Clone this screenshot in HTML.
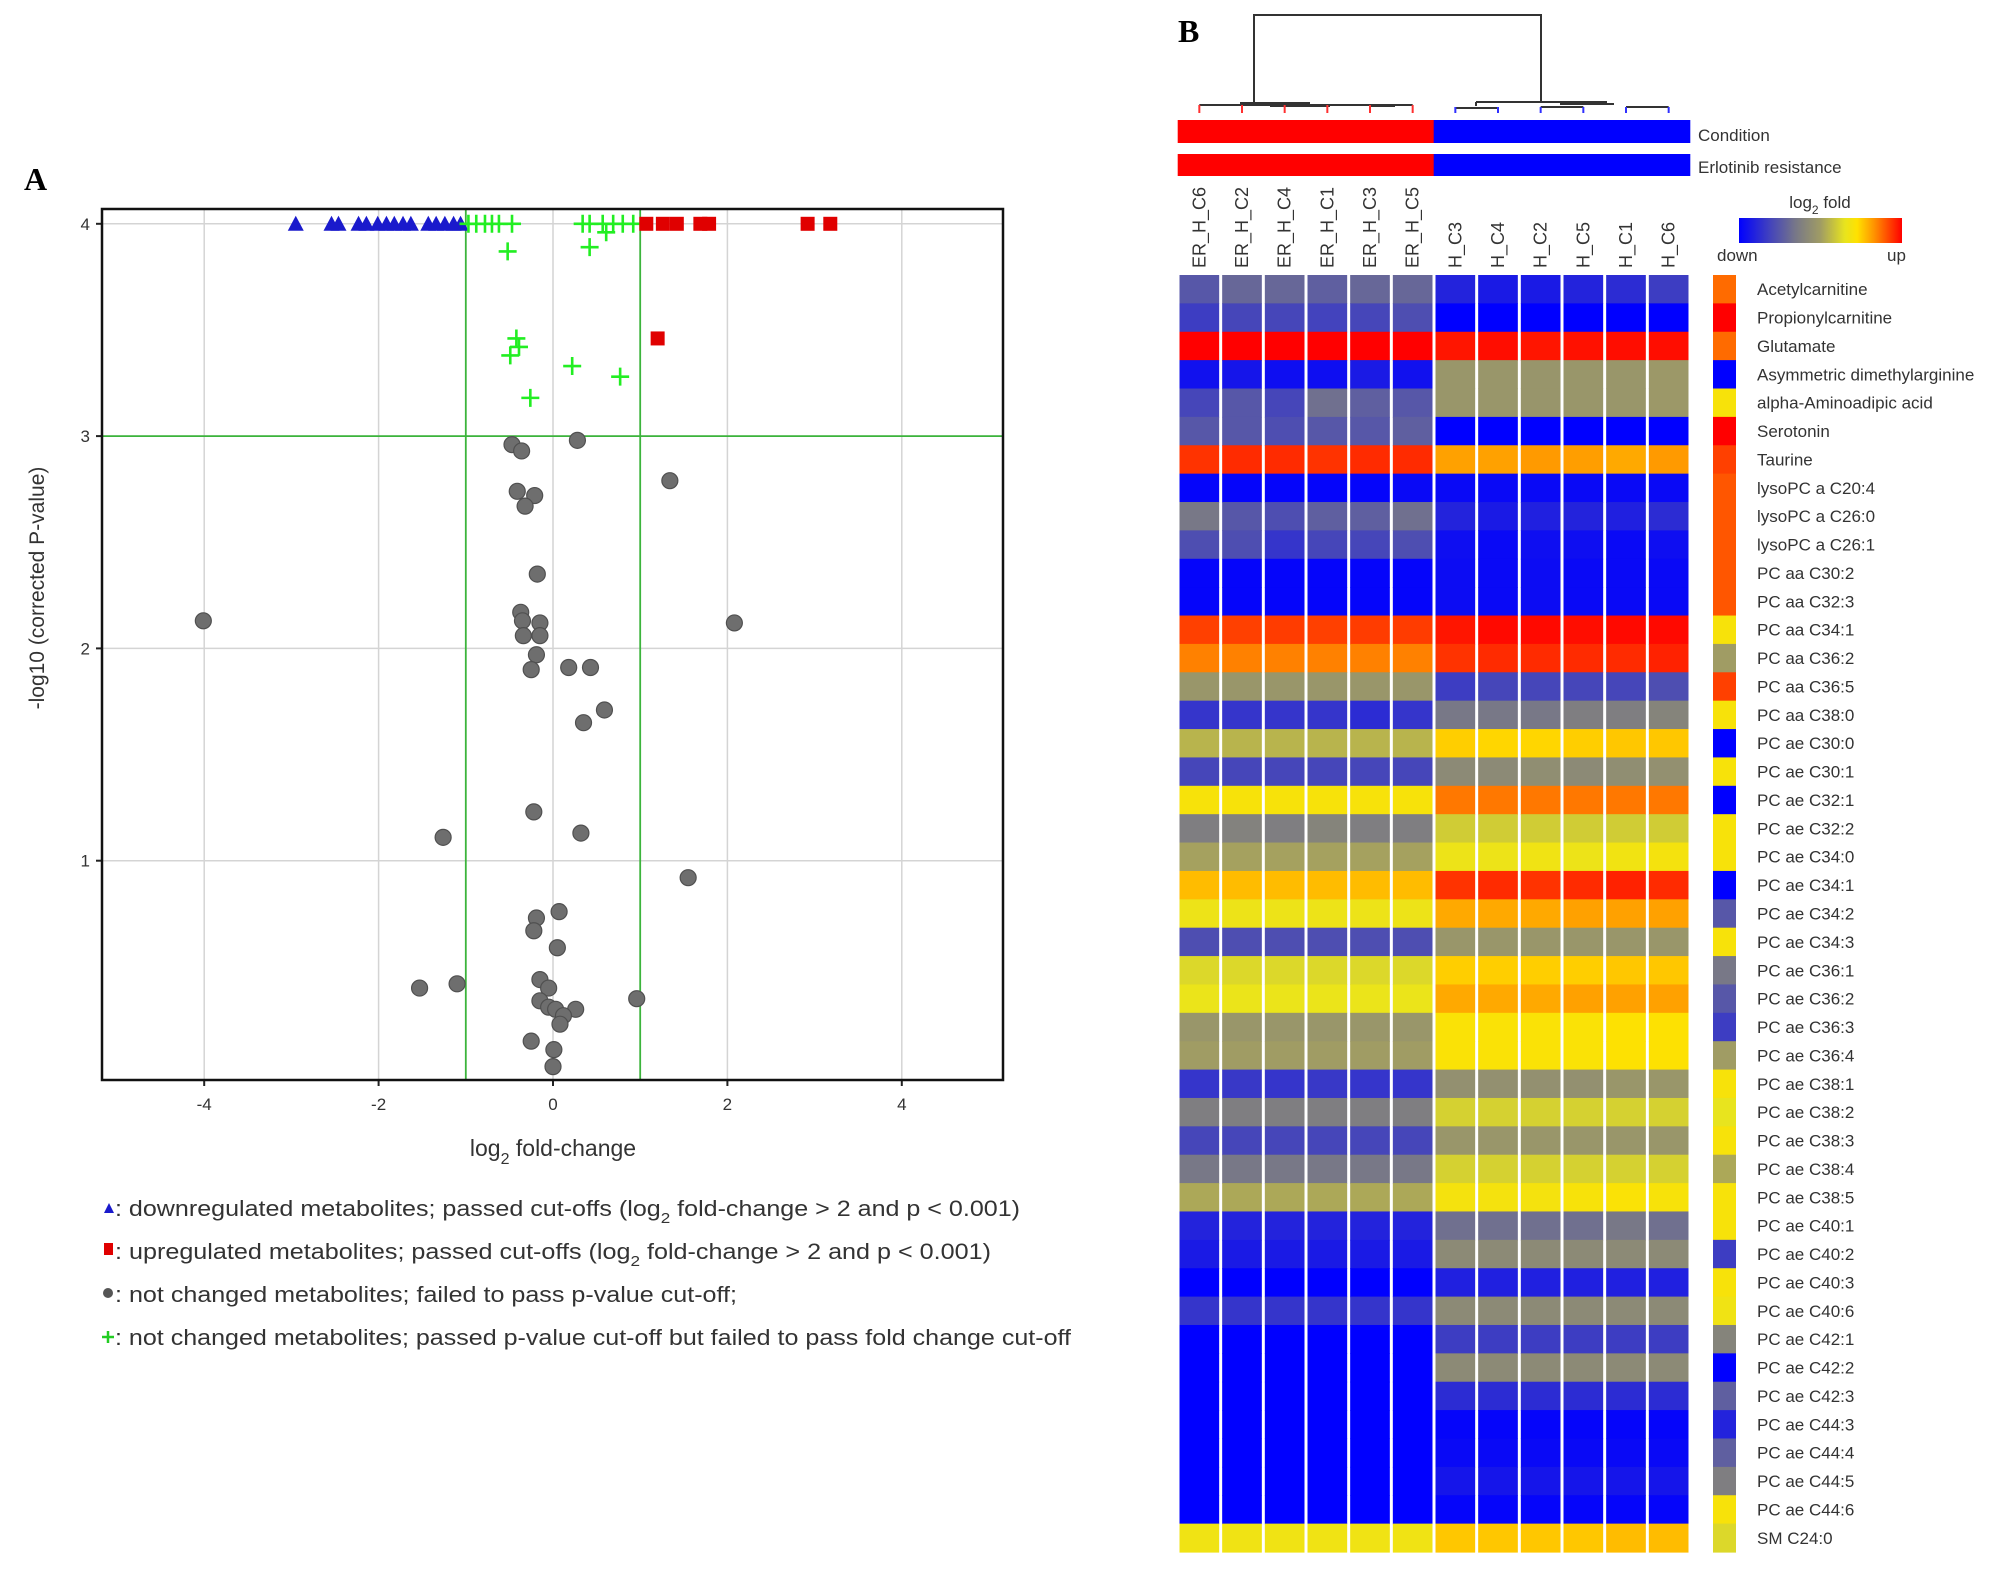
<!DOCTYPE html>
<html><head><meta charset="utf-8"><style>
html,body{margin:0;padding:0;background:#fff;}
svg{display:block;font-family:"Liberation Sans",sans-serif;}
</style></head><body>
<svg id="fig" width="2008" height="1591" viewBox="0 0 2008 1591" xmlns="http://www.w3.org/2000/svg">
<g id="panelA"></g>
<g id="panelB"></g>
</svg>
<script>
// ===== Volcano data =====
const blueX=[-2.95,-2.54,-2.46,-2.23,-2.14,-2.01,-1.91,-1.82,-1.72,-1.63,-1.43,-1.34,-1.24,-1.14,-1.06];
const blueY=[4,4,4,4,4,4,4,4,4,4,4,4,4,4,4];
const redX=[1.07,1.26,1.42,1.69,1.79,2.92,3.18,1.20];
const redY=[4,4,4,4,4,4,4,3.46];
const greenX=[-0.97,-0.88,-0.78,-0.70,-0.62,-0.47,0.34,0.42,0.57,0.69,0.80,0.92,0.61,-0.52,0.42,-0.42,-0.39,-0.49,0.22,0.77,-0.26];
const greenY=[4,4,4,4,4,4,4,4,4,4,4,4,3.96,3.87,3.89,3.46,3.42,3.38,3.33,3.28,3.18];
const grayX=[0.28,-0.47,-0.36,1.34,-0.41,-0.21,-0.32,-0.18,-4.01,2.08,-0.37,-0.35,-0.15,-0.34,-0.15,-0.19,-0.25,0.18,0.43,0.59,0.35,-0.22,-1.26,0.32,1.55,0.07,-0.19,-0.22,0.05,-1.53,-1.10,-0.15,-0.05,0.96,-0.15,-0.05,0.03,0.26,0.12,0.08,-0.25,0.01,0.0];
const grayY=[2.98,2.96,2.93,2.79,2.74,2.72,2.67,2.35,2.13,2.12,2.17,2.13,2.12,2.06,2.06,1.97,1.90,1.91,1.91,1.71,1.65,1.23,1.11,1.13,0.92,0.76,0.73,0.67,0.59,0.40,0.42,0.44,0.40,0.35,0.34,0.31,0.30,0.30,0.27,0.23,0.15,0.11,0.03];
const xTicks=[-4,-2,0,2,4];
const yTicks=[1,2,3,4];
const xCut=[-1,1];
const yCut=[3];

// ===== Heatmap data =====
const colLabels=["ER_H_C6","ER_H_C2","ER_H_C4","ER_H_C1","ER_H_C3","ER_H_C5","H_C3","H_C4","H_C2","H_C5","H_C1","H_C6"];
const rowLabels=["Acetylcarnitine","Propionylcarnitine","Glutamate","Asymmetric dimethylarginine","alpha-Aminoadipic acid","Serotonin","Taurine","lysoPC a C20:4","lysoPC a C26:0","lysoPC a C26:1","PC aa C30:2","PC aa C32:3","PC aa C34:1","PC aa C36:2","PC aa C36:5","PC aa C38:0","PC ae C30:0","PC ae C30:1","PC ae C32:1","PC ae C32:2","PC ae C34:0","PC ae C34:1","PC ae C34:2","PC ae C34:3","PC ae C36:1","PC ae C36:2","PC ae C36:3","PC ae C36:4","PC ae C38:1","PC ae C38:2","PC ae C38:3","PC ae C38:4","PC ae C38:5","PC ae C40:1","PC ae C40:2","PC ae C40:3","PC ae C40:6","PC ae C42:1","PC ae C42:2","PC ae C42:3","PC ae C44:3","PC ae C44:4","PC ae C44:5","PC ae C44:6","SM C24:0"];
const heatVals=[
[-0.5,-0.4,-0.4,-0.45,-0.4,-0.4,-0.8,-0.85,-0.85,-0.8,-0.75,-0.65],
[-0.65,-0.6,-0.6,-0.62,-0.6,-0.55,-1,-1,-1,-1,-1,-1],
[1,1,1,1,1,1,0.95,0.97,0.95,0.96,0.97,0.97],
[-0.9,-0.88,-0.92,-0.92,-0.85,-0.9,-0.05,-0.05,-0.06,-0.05,-0.05,-0.03],
[-0.6,-0.5,-0.6,-0.35,-0.45,-0.5,-0.05,-0.05,-0.06,-0.05,-0.05,-0.03],
[-0.5,-0.5,-0.55,-0.5,-0.5,-0.45,-1,-1,-1,-1,-1,-1],
[0.88,0.9,0.9,0.88,0.9,0.9,0.62,0.62,0.64,0.63,0.6,0.64],
[-0.97,-0.97,-0.97,-0.97,-0.97,-0.95,-0.95,-0.95,-0.95,-0.95,-0.95,-0.95],
[-0.3,-0.5,-0.55,-0.45,-0.45,-0.35,-0.8,-0.85,-0.82,-0.8,-0.82,-0.75],
[-0.55,-0.55,-0.7,-0.6,-0.6,-0.55,-0.92,-0.95,-0.92,-0.92,-0.95,-0.92],
[-0.97,-0.97,-0.97,-0.97,-0.97,-0.97,-0.93,-0.95,-0.93,-0.95,-0.95,-0.95],
[-0.97,-0.97,-0.97,-0.97,-0.97,-0.97,-0.93,-0.95,-0.93,-0.95,-0.95,-0.95],
[0.85,0.85,0.86,0.85,0.86,0.86,0.95,0.98,0.98,0.97,0.98,0.98],
[0.7,0.7,0.7,0.7,0.7,0.7,0.88,0.9,0.9,0.9,0.9,0.92],
[-0.05,-0.05,-0.05,-0.05,-0.05,-0.05,-0.65,-0.6,-0.6,-0.6,-0.6,-0.55],
[-0.7,-0.7,-0.7,-0.7,-0.75,-0.7,-0.3,-0.3,-0.3,-0.25,-0.25,-0.2],
[0.1,0.1,0.1,0.1,0.1,0.1,0.5,0.48,0.48,0.5,0.52,0.52],
[-0.6,-0.6,-0.6,-0.6,-0.6,-0.6,-0.15,-0.15,-0.12,-0.15,-0.12,-0.1],
[0.4,0.4,0.4,0.4,0.4,0.4,0.72,0.72,0.72,0.72,0.72,0.72],
[-0.25,-0.22,-0.25,-0.2,-0.25,-0.25,0.2,0.2,0.2,0.2,0.2,0.2],
[0.02,0.02,0.02,0.02,0.02,0.02,0.33,0.33,0.35,0.33,0.36,0.38],
[0.55,0.55,0.55,0.55,0.55,0.55,0.88,0.9,0.88,0.9,0.92,0.9],
[0.33,0.33,0.33,0.33,0.33,0.33,0.6,0.6,0.6,0.62,0.62,0.62],
[-0.55,-0.55,-0.55,-0.55,-0.55,-0.55,-0.05,-0.05,-0.05,-0.05,-0.05,-0.05],
[0.25,0.25,0.25,0.25,0.25,0.25,0.5,0.5,0.5,0.5,0.52,0.52],
[0.32,0.32,0.32,0.32,0.32,0.32,0.6,0.6,0.6,0.62,0.62,0.62],
[-0.05,-0.05,-0.05,-0.05,-0.05,-0.05,0.42,0.42,0.42,0.42,0.44,0.44],
[0.0,0.0,0.0,0.0,0.0,0.0,0.42,0.42,0.42,0.42,0.44,0.44],
[-0.7,-0.68,-0.7,-0.68,-0.7,-0.7,-0.1,-0.1,-0.1,-0.1,-0.05,-0.05],
[-0.25,-0.25,-0.25,-0.25,-0.25,-0.25,0.22,0.22,0.22,0.22,0.22,0.22],
[-0.6,-0.6,-0.6,-0.6,-0.6,-0.6,-0.05,-0.05,-0.05,-0.05,-0.05,-0.05],
[-0.3,-0.3,-0.3,-0.3,-0.3,-0.3,0.22,0.22,0.22,0.22,0.22,0.22],
[0.05,0.05,0.05,0.05,0.05,0.05,0.38,0.38,0.38,0.4,0.42,0.4],
[-0.8,-0.8,-0.8,-0.8,-0.8,-0.8,-0.35,-0.35,-0.35,-0.35,-0.3,-0.35],
[-0.85,-0.85,-0.85,-0.85,-0.85,-0.85,-0.15,-0.15,-0.15,-0.15,-0.15,-0.15],
[-1,-1,-1,-1,-1,-1,-0.82,-0.82,-0.82,-0.82,-0.82,-0.82],
[-0.7,-0.7,-0.7,-0.7,-0.7,-0.7,-0.15,-0.15,-0.15,-0.15,-0.15,-0.15],
[-1,-1,-1,-1,-1,-1,-0.65,-0.65,-0.65,-0.65,-0.65,-0.65],
[-1,-1,-1,-1,-1,-1,-0.15,-0.15,-0.15,-0.15,-0.15,-0.15],
[-1,-1,-1,-1,-1,-1,-0.75,-0.75,-0.75,-0.75,-0.75,-0.75],
[-1,-1,-1,-1,-1,-1,-0.97,-0.97,-0.97,-0.97,-0.97,-0.97],
[-1,-1,-1,-1,-1,-1,-0.95,-0.95,-0.95,-0.95,-0.95,-0.95],
[-1,-1,-1,-1,-1,-1,-0.88,-0.88,-0.88,-0.88,-0.88,-0.88],
[-1,-1,-1,-1,-1,-1,-0.97,-0.97,-0.97,-0.97,-0.97,-0.97],
[0.35,0.35,0.35,0.35,0.35,0.35,0.52,0.52,0.52,0.52,0.55,0.55]];
const sideVals=[0.75,1,0.75,-1,0.4,1,0.85,0.8,0.8,0.8,0.8,0.8,0.4,0,0.85,0.4,-1,0.4,-1,0.4,0.4,-1,-0.5,0.4,-0.3,-0.5,-0.65,0,0.4,0.3,0.4,0.05,0.4,0.4,-0.65,0.4,0.35,-0.2,-1,-0.45,-0.8,-0.45,-0.25,0.4,0.25];
const groupColors=["#ff0000","#ff0000","#ff0000","#ff0000","#ff0000","#ff0000","#0000ff","#0000ff","#0000ff","#0000ff","#0000ff","#0000ff"];

const NS="http://www.w3.org/2000/svg";
function mk(parent,tag,attrs,text){const e=document.createElementNS(NS,tag);for(const k in attrs)e.setAttribute(k,attrs[k]);if(text!==undefined)e.textContent=text;parent.appendChild(e);return e;}

// ===== Panel A =====
const A=document.getElementById('panelA');
const L=102,R=1003,T=209,B=1080;
const sx=v=>553+v*87.2;
const sy=v=>1073-v*212.3;
let t=mk(A,'text',{x:24,y:190,'font-family':'Liberation Serif, serif','font-weight':'bold','font-size':32});t.textContent='A';

xTicks.forEach(v=>{let g=mk(A,'line',{x1:sx(v),x2:sx(v),y1:T,y2:B,stroke:'#d4d4d4','stroke-width':1.5});

let tk=mk(A,'line',{x1:sx(v),x2:sx(v),y1:B,y2:B+6,stroke:'#222','stroke-width':2});

let tl=mk(A,'text',{x:sx(v),y:B+30,'text-anchor':'middle','font-size':17,fill:'#333'},(v<0?'-':'')+Math.abs(v));
});
yTicks.forEach(v=>{let g=mk(A,'line',{x1:L,x2:R,y1:sy(v),y2:sy(v),stroke:'#d4d4d4','stroke-width':1.5});

let tk=mk(A,'line',{x1:L-6,x2:L,y1:sy(v),y2:sy(v),stroke:'#222','stroke-width':2});

let tl=mk(A,'text',{x:L-12,y:sy(v)+6,'text-anchor':'end','font-size':17,fill:'#333'},String(v));
});
xCut.forEach(v=>{let c=mk(A,'line',{x1:sx(v),x2:sx(v),y1:T,y2:B,stroke:'#3cb43c','stroke-width':1.8});
});
yCut.forEach(v=>{let c=mk(A,'line',{x1:L,x2:R,y1:sy(v),y2:sy(v),stroke:'#3cb43c','stroke-width':1.8});
});
grayX.forEach((v,i)=>{let c=mk(A,'circle',{cx:sx(v),cy:sy(grayY[i]),r:8,fill:'#6e6e6e',stroke:'#505050','stroke-width':1.2});
});
blueX.forEach((v,i)=>{const x=sx(v),y=sy(blueY[i]);let p=mk(A,'polygon',{points:`${x-8},${y+7} ${x+8},${y+7} ${x},${y-8}`,fill:'#1a1acc'});
});
greenX.forEach((v,i)=>{const x=sx(v),y=sy(greenY[i]);let p=mk(A,'path',{d:`M${x-9},${y}H${x+9}M${x},${y-9}V${y+9}`,stroke:'#22ee22','stroke-width':2.6,fill:'none'});
});
redX.forEach((v,i)=>{const x=sx(v),y=sy(redY[i]);let p=mk(A,'rect',{x:x-7,y:y-7,width:14,height:14,fill:'#e00000'});
});
let fr=mk(A,'rect',{x:L,y:T,width:R-L,height:B-T,fill:'none',stroke:'#111','stroke-width':2.5});

let xt=mk(A,'text',{x:553,y:1156,'text-anchor':'middle','font-size':23,fill:'#333'});
xt.innerHTML='log<tspan dy="8" font-size="16">2</tspan><tspan dy="-8"> fold-change</tspan>';

let yt=mk(A,'text',{x:0,y:0,'text-anchor':'middle','font-size':21,fill:'#333',transform:'translate(44,588) rotate(-90)'},'-log10 (corrected P-value)');

// legend
const legY=[1216,1259,1302,1345];
let lg=mk(A,'g',{});
let m1=mk(lg,'polygon',{points:`104,${legY[0]-3} 114,${legY[0]-3} 109,${legY[0]-13}`,fill:'#1a1acc'});

let m2=mk(lg,'rect',{x:104,y:legY[1]-16,width:9,height:12,fill:'#e00000'});

let m3=mk(lg,'circle',{cx:108,cy:legY[2]-9,r:5,fill:'#555'});

let m4=mk(lg,'path',{d:`M102,${legY[3]-8}H114M108,${legY[3]-14}V${legY[3]-2}`,stroke:'#22cc22','stroke-width':2.5});

const legHTML=[': downregulated metabolites; passed cut-offs (log<tspan dy="7" font-size="15">2</tspan><tspan dy="-7">  fold-change &gt; 2 and p &lt; 0.001)</tspan>',
': upregulated metabolites; passed cut-offs (log<tspan dy="7" font-size="15">2</tspan><tspan dy="-7">  fold-change &gt; 2 and p &lt; 0.001)</tspan>',
': not changed metabolites; failed to pass p-value cut-off;',
': not changed metabolites; passed p-value cut-off but failed to pass fold change cut-off'];
const legNames=['legend-entry-down','legend-entry-up','legend-entry-gray','legend-entry-plus'];
legHTML.forEach((h,i)=>{let e=mk(lg,'text',{x:115,y:legY[i],'font-size':22,fill:'#333',textLength:i==0?905:i==1?876:i==2?622:956,lengthAdjust:'spacingAndGlyphs'});e.innerHTML=h;
});

// ===== Panel B =====
const P=document.getElementById('panelB');
const stops=[[-1,[0,0,255]],[-0.6,[70,70,185]],[-0.3,[120,120,135]],[0,[160,156,100]],[0.3,[232,228,30]],[0.45,[255,225,0]],[0.65,[255,150,0]],[1,[255,0,0]]];
function col(v){v=Math.max(-1,Math.min(1,v));for(let i=0;i<stops.length-1;i++){const[a,ca]=stops[i],[b,cb]=stops[i+1];if(v<=b){const f=(v-a)/(b-a);return 'rgb('+ca.map((c,k)=>Math.round(c+(cb[k]-c)*f)).join(',')+')';}}return 'rgb(255,0,0)';}
t=mk(P,'text',{x:1178,y:42,'font-family':'Liberation Serif, serif','font-weight':'bold','font-size':32},'B');

const HX0=1178,HX1=1690,HY0=275,HY1=1552;
const cw=(HX1-HX0)/colLabels.length, rh=(HY1-HY0)/rowLabels.length;
const cx=j=>HX0+j*cw, ry=i=>HY0+i*rh;
heatVals.forEach((row,i)=>row.forEach((v,j)=>{let r=mk(P,'rect',{x:cx(j)+1.5,y:ry(i),width:cw-3,height:rh+0.6,fill:col(v)});
}));
sideVals.forEach((v,i)=>{let r=mk(P,'rect',{x:1713,y:ry(i),width:23,height:rh+0.6,fill:col(v)});
});
rowLabels.forEach((s,i)=>{let e=mk(P,'text',{x:1757,y:ry(i)+rh/2+6,'font-size':17,fill:'#333'},s);
});
colLabels.forEach((s,j)=>{const x=cx(j)+cw/2+6;let e=mk(P,'text',{x:0,y:0,'font-size':18,fill:'#333',transform:`translate(${x},268) rotate(-90)`},s);
});
// annotation bars
groupColors.forEach((c,j)=>{let r1=mk(P,'rect',{x:cx(j)-0.3,y:120,width:cw+0.6,height:23,fill:c});

let r2=mk(P,'rect',{x:cx(j)-0.3,y:154,width:cw+0.6,height:22,fill:c});
});
let c1=mk(P,'text',{x:1698,y:141,'font-size':17,fill:'#333'},'Condition');
let c2=mk(P,'text',{x:1698,y:173,'font-size':17,fill:'#333'},'Erlotinib resistance');
// dendrogram
const dg=mk(P,'g',{fill:'none','stroke-width':2});
const mid=j=>cx(j)+cw/2;
mk(dg,'path',{d:`M1254,103V15H1541V102`,stroke:'#333'});
mk(dg,'path',{d:`M${mid(0)},105H${mid(5)}M1240,103H1310M1270,106H1330M1370,106H1395`,stroke:'#333'});
mk(dg,'path',{d:`M${mid(6)},108H${mid(7)}M1476,102V106M1476,102H1607M1560,104H1614M${mid(8)},107H${mid(9)}M${mid(10)},107H${mid(11)}`,stroke:'#333'});
for(let j=0;j<6;j++)mk(dg,'path',{d:`M${mid(j)},105V113`,stroke:'#ff3030'});
for(let j=6;j<12;j++)mk(dg,'path',{d:`M${mid(j)},107V113`,stroke:'#3030ff'});
// color key
const defs=mk(P,'defs',{});const gr=mk(defs,'linearGradient',{id:'cg',x1:0,x2:1,y1:0,y2:0});
stops.forEach(s=>mk(gr,'stop',{offset:((s[0]+1)/2*100)+'%','stop-color':col(s[0])}));
let kb=mk(P,'rect',{x:1739,y:218,width:163,height:25,fill:'url(#cg)'});
let kt=mk(P,'text',{x:1820,y:208,'text-anchor':'middle','font-size':17,fill:'#333'});kt.innerHTML='log<tspan dy="6" font-size="12">2</tspan><tspan dy="-6"> fold</tspan>';

let kd=mk(P,'text',{x:1717,y:261,'font-size':17,fill:'#333'},'down');
let ku=mk(P,'text',{x:1887,y:261,'font-size':17,fill:'#333'},'up');
</script>
</body></html>
